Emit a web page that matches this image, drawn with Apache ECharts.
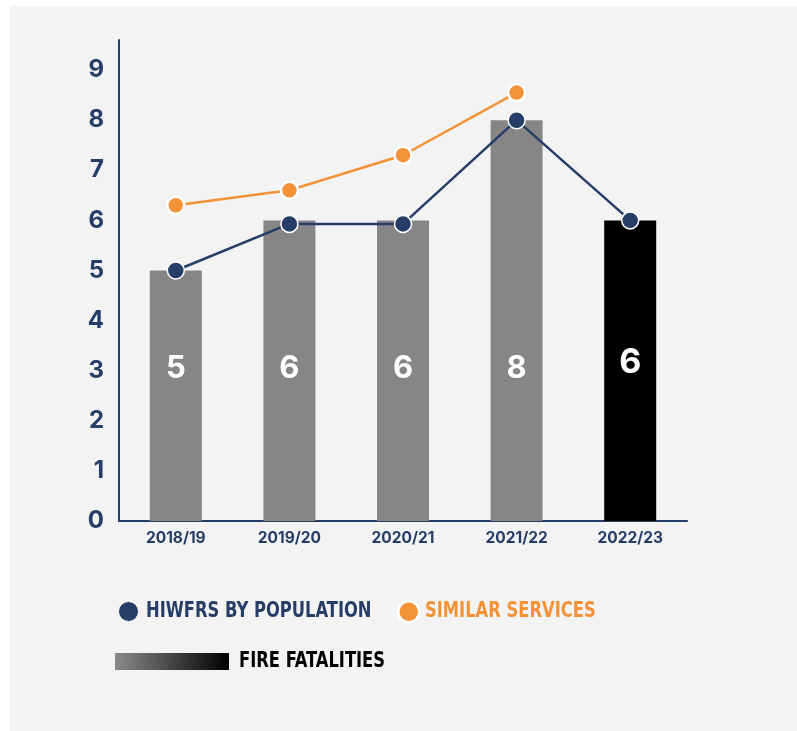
<!DOCTYPE html>
<html>
<head>
<meta charset="utf-8">
<script src="https://cdn.jsdelivr.net/npm/echarts@6/dist/echarts.min.js"></script>
<style>
  html, body { margin: 0; padding: 0; background: #ffffff; }
  #panel { position: absolute; left: 10px; top: 6px; width: 787px; height: 725px; background: #f3f3f3; }
  #main { position: absolute; left: 0; top: 0; width: 797px; height: 731px; }
</style>
</head>
<body>
<div id="panel"></div>
<div id="main"></div>
<script>
  // data
  const years = ['2018/19', '2019/20', '2020/21', '2021/22', '2022/23'];
  const fatalities = [5, 6, 6, 8, 6];
  const hiwfrsByPopulation = [5, 5.93, 5.93, 8, 6];
  const similarServices = [6.3, 6.6, 7.3, 8.55, null];

  const navy = '#263d67';
  const orange = '#f39236';
  const grey = '#868686';
  const numFont = 'Inter, "Open Sans", sans-serif';
  const narrowFont = '"DejaVu Sans Condensed", "DejaVu Sans", sans-serif';

  let chartDom = document.getElementById('main');
  let myChart = echarts.init(chartDom);

  let barData = fatalities.map((v, i) => {
    let last = i === fatalities.length - 1;
    return {
      value: v,
      itemStyle: {color: last ? '#000000' : grey},
      label: last ? {fontSize: 34, lineHeight: 34, distance: 141} : {},
    };
  });

  // legend text is drawn squeezed, the reference uses a condensed face
  let legendText = (text, x, y, color) => ({
    type: 'text',
    x: x,
    y: y,
    scaleX: 0.865,
    silent: true,
    style: {
      text: text,
      fill: color,
      font: 'bold 21px ' + narrowFont,
      textAlign: 'left',
      textVerticalAlign: 'middle',
    },
  });

  let option = {
    animation: false,
    grid: {left: 119, right: 110, top: 40, bottom: 210},
    xAxis: {
      type: 'category',
      data: years,
      axisLine: {lineStyle: {color: navy, width: 2}},
      axisTick: {show: false},
      axisLabel: {
        color: navy,
        fontFamily: numFont,
        fontWeight: 'bold',
        fontSize: 15.5,
        margin: 9,
      },
    },
    yAxis: {
      type: 'value',
      min: 0,
      max: 9.6,
      interval: 1,
      splitLine: {show: false},
      axisTick: {show: false},
      axisLine: {show: true, lineStyle: {color: navy, width: 2}},
      axisLabel: {
        showMaxLabel: false,
        color: navy,
        fontFamily: numFont,
        fontWeight: 'bold',
        fontSize: 24,
        margin: 15,
      },
    },
    legend: [
      {
        left: 113,
        top: 596,
        icon: 'circle',
        itemWidth: 20,
        itemHeight: 20,
        formatter: () => '',
        data: [{
          name: 'HIWFRS BY POPULATION',
          itemStyle: {color: navy, borderColor: '#ffffff', borderWidth: 1},
        }],
        selectedMode: false,
      },
      {
        left: 392,
        top: 595,
        icon: 'circle',
        itemWidth: 21,
        itemHeight: 21,
        formatter: () => '',
        data: [{
          name: 'SIMILAR SERVICES',
          itemStyle: {color: orange, borderColor: '#ffffff', borderWidth: 2.5},
        }],
        selectedMode: false,
      },
      {
        left: 110,
        top: 648,
        icon: 'rect',
        itemWidth: 114,
        itemHeight: 17,
        formatter: () => '',
        data: [{
          name: 'FIRE FATALITIES',
          itemStyle: {
            color: new echarts.graphic.LinearGradient(0, 0, 1, 0, [
              {offset: 0, color: '#8a8a8a'},
              {offset: 1, color: '#000000'},
            ]),
          },
        }],
        selectedMode: false,
      },
    ],
    graphic: [
      legendText('HIWFRS BY POPULATION', 146, 612, navy),
      legendText('SIMILAR SERVICES', 425, 612, orange),
      legendText('FIRE FATALITIES', 239, 662, '#000000'),
    ],
    series: [
      {
        name: 'FIRE FATALITIES',
        type: 'bar',
        barWidth: 52,
        data: barData,
        label: {
          show: true,
          position: 'insideBottom',
          distance: 137,
          color: '#ffffff',
          fontFamily: numFont,
          fontWeight: 'bold',
          fontSize: 31,
          lineHeight: 30,
        },
        z: 1,
      },
      {
        name: 'SIMILAR SERVICES',
        type: 'line',
        data: similarServices,
        symbol: 'circle',
        symbolSize: 17,
        lineStyle: {color: orange, width: 2.5},
        itemStyle: {color: orange, borderColor: '#ffffff', borderWidth: 2.5},
        z: 3,
      },
      {
        name: 'HIWFRS BY POPULATION',
        type: 'line',
        data: hiwfrsByPopulation,
        symbol: 'circle',
        symbolSize: 17,
        lineStyle: {color: navy, width: 2.5},
        itemStyle: {color: navy, borderColor: '#ffffff', borderWidth: 1.5},
        z: 4,
      },
    ],
  };
  option && myChart.setOption(option);
</script>
</body>
</html>
